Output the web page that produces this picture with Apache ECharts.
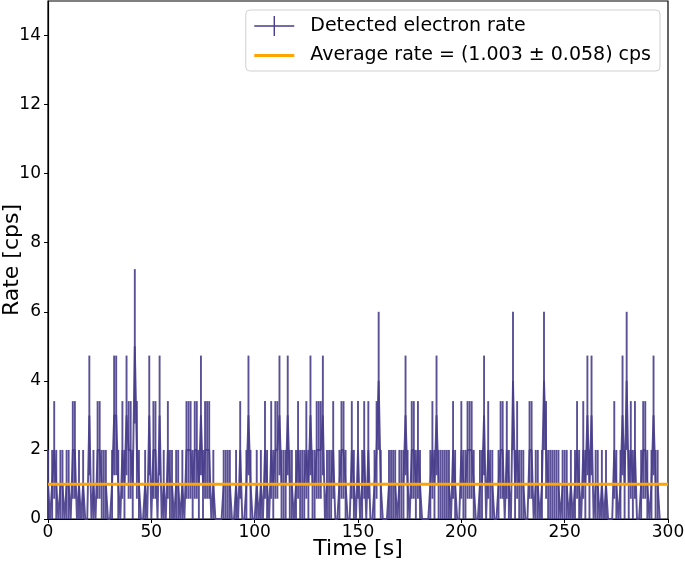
<!DOCTYPE html>
<html>
<head>
<meta charset="utf-8">
<script src="https://cdn.jsdelivr.net/npm/echarts@6/dist/echarts.min.js"></script>
<style>
  html, body { margin: 0; padding: 0; background: #fff; }
  #chart { width: 685px; height: 561px; }
</style>
</head>
<body>
<div id="chart"></div>
<script>
// counts per 1 s bin (t = 0 .. 296 s)
const rateCounts = [
  1, 0, 1, 2, 1, 0, 1, 1, 0, 1, 1, 0, 2, 2, 0, 1, 0, 1, 0, 0,
  3, 0, 1, 0, 2, 2, 1, 1, 1, 0, 0, 1, 3, 3, 1, 0, 2, 1, 3, 2,
  2, 1, 5, 2, 1, 0, 0, 1, 0, 3,
  0, 2, 2, 0, 3, 0, 1, 0, 2, 1, 1, 0, 1, 1, 0, 1, 0, 2, 2, 2,
  1, 2, 2, 1, 3, 1, 2, 2, 2, 0, 1, 0, 0, 0, 0, 1, 1, 1, 1, 0,
  0, 1, 0, 2, 0, 0, 1, 3, 1, 0,
  0, 1, 0, 1, 0, 2, 1, 0, 2, 1, 2, 2, 3, 1, 1, 1, 3, 1, 1, 0,
  1, 2, 1, 1, 1, 2, 1, 3, 1, 1, 2, 2, 2, 3, 0, 1, 1, 1, 2, 0,
  0, 1, 2, 2, 1, 0, 0, 2, 1, 0,
  2, 0, 1, 2, 0, 2, 0, 0, 1, 2, 4, 1, 0, 0, 0, 1, 1, 1, 1, 0,
  1, 1, 1, 3, 1, 0, 2, 2, 1, 2, 1, 0, 0, 0, 0, 1, 2, 1, 3, 1,
  1, 1, 1, 1, 1, 0, 2, 1, 0, 0,
  2, 1, 1, 2, 2, 2, 1, 0, 0, 1, 1, 3, 0, 2, 1, 1, 0, 0, 1, 2,
  2, 0, 2, 1, 0, 4, 1, 2, 1, 1, 1, 0, 0, 2, 2, 0, 1, 1, 0, 1,
  4, 2, 1, 1, 1, 1, 1, 1, 0, 1,
  1, 1, 0, 1, 0, 1, 2, 1, 0, 2, 1, 3, 1, 3, 0, 1, 1, 0, 1, 0,
  1, 0, 0, 0, 2, 1, 0, 1, 3, 1, 4, 1, 2, 1, 2, 0, 0, 1, 2, 2,
  1, 0, 1, 3, 1, 1, 0
]
const binStart = 0 // s
const binWidth = 1 // s
const averageRate = 1.003
const averageErr = 0.058
const xTicks = [0, 50, 100, 150, 200, 250, 300]
const yTicks = [0, 2, 4, 6, 8, 10, 12, 14]

const rateName = 'Detected electron rate'
const avgName = 'Average rate = (' + averageRate.toFixed(3) + ' \u00b1 ' + averageErr.toFixed(3) + ') cps'

const purple = '#483D8B'
const orange = '#FFA500'
const font = 'DejaVu Sans'

// points and poisson error bars
const linePts = rateCounts.map((c, i) => [binStart + i * binWidth, c])
const errPts = rateCounts.map((c, i) => [binStart + i * binWidth, c - Math.sqrt(c), c + Math.sqrt(c)])

const chart = echarts.init(document.getElementById('chart'))

const option = {
  animation: false,
  textStyle: { fontFamily: font },
  grid: {
    left: 48, right: 17, top: 1, bottom: 42,
    containLabel: false,
    outerBoundsMode: 'none',
    show: true, borderColor: '#000', borderWidth: 1.2
  },
  legend: {
    orient: 'vertical',
    right: 25,
    top: 10,
    padding: [6, 9, 6, 7],
    itemGap: 10,
    itemWidth: 40,
    itemHeight: 20,
    borderColor: '#d0d0d0',
    borderWidth: 1,
    borderRadius: 4,
    backgroundColor: 'rgba(255,255,255,0.8)',
    textStyle: { fontFamily: font, fontSize: 19, color: '#000', padding: [0, 0, 0, 11] },
    data: [
      { name: rateName, icon: 'path://M0,9.3h40v1.4h-40z M19.3,0h1.4v20h-1.4z' },
      { name: avgName, itemStyle: { opacity: 0 }, lineStyle: { width: 3 } }
    ]
  },
  xAxis: {
    type: 'value',
    min: xTicks[0],
    max: xTicks[xTicks.length - 1],
    interval: 50,
    name: 'Time [s]',
    nameLocation: 'middle',
    nameGap: 19,
    nameMoveOverlap: false,
    nameTextStyle: { fontFamily: font, fontSize: 22, color: '#000' },
    axisLine: { show: true, lineStyle: { color: '#000', width: 1.2 } },
    axisTick: { show: true, length: 4, lineStyle: { color: '#000' } },
    axisLabel: { fontFamily: font, fontSize: 17, color: '#000', margin: 5 },
    splitLine: { show: false }
  },
  yAxis: {
    type: 'value',
    min: 0,
    max: 15,
    interval: 2,
    name: 'Rate [cps]',
    nameLocation: 'middle',
    nameGap: 25,
    nameMoveOverlap: false,
    nameTextStyle: { fontFamily: font, fontSize: 22, color: '#000' },
    axisLine: { show: true, lineStyle: { color: '#000', width: 1.2 } },
    axisTick: { show: true, length: 4, lineStyle: { color: '#000' } },
    axisLabel: {
      fontFamily: font, fontSize: 17, color: '#000', margin: 7,
      showMaxLabel: false,
      formatter: v => (yTicks.indexOf(v) >= 0 ? String(v) : '')
    },
    splitLine: { show: false }
  },
  series: [
    {
      name: rateName,
      type: 'line',
      data: linePts,
      symbol: 'none',
      color: purple,
      lineStyle: { color: purple, width: 1.9, opacity: 0.9 },
      z: 2
    },
    {
      name: rateName + ' err',
      type: 'custom',
      data: errPts,
      encode: { x: 0, y: [1, 2] },
      renderItem: (params, api) => {
        const top = api.coord([api.value(0), api.value(2)])
        const bot = api.coord([api.value(0), api.value(1)])
        return {
          type: 'line',
          shape: { x1: top[0], y1: top[1], x2: bot[0], y2: bot[1] },
          style: { stroke: purple, lineWidth: 1.9, opacity: 0.9 }
        }
      },
      z: 2
    },
    {
      name: avgName,
      type: 'line',
      data: [[xTicks[0], averageRate], [xTicks[xTicks.length - 1], averageRate]],
      symbol: 'none',
      color: orange,
      lineStyle: { color: orange, width: 3 },
      z: 3
    }
  ]
}

chart.setOption(option)
</script>
</body>
</html>
